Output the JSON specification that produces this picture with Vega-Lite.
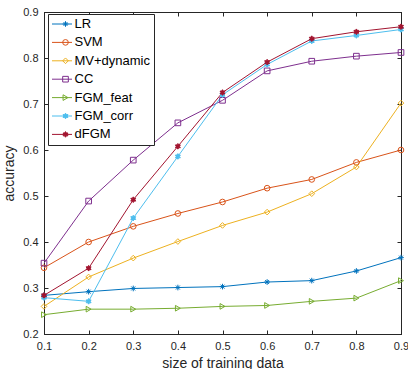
{
  "$schema": "https://vega.github.io/schema/vega-lite/v6.json",
  "width": 357,
  "height": 322,
  "autosize": {"type": "none"},
  "padding": {"left": 44, "top": 12, "right": 7, "bottom": 35},
  "background": "white",
  "config": {
    "view": {"stroke": "#262626", "strokeWidth": 1},
    "font": "Liberation Sans",
    "axis": {
      "grid": false,
      "domainColor": "#262626",
      "tickColor": "#262626",
      "labelColor": "#262626",
      "titleColor": "#262626",
      "labelFont": "Liberation Sans",
      "titleFont": "Liberation Sans",
      "labelFontSize": 11,
      "titleFontSize": 13,
      "titleFontWeight": "normal",
      "labelFlush": false,
      "tickSize": -4
    }
  },
  "data": {
    "values": [
      {"method": "LR", "x": 0.1, "acc": 0.284},
      {"method": "LR", "x": 0.2, "acc": 0.292},
      {"method": "LR", "x": 0.3, "acc": 0.299},
      {"method": "LR", "x": 0.4, "acc": 0.301},
      {"method": "LR", "x": 0.5, "acc": 0.303},
      {"method": "LR", "x": 0.6, "acc": 0.313},
      {"method": "LR", "x": 0.7, "acc": 0.316},
      {"method": "LR", "x": 0.8, "acc": 0.337},
      {"method": "LR", "x": 0.9, "acc": 0.366},
      {"method": "SVM", "x": 0.1, "acc": 0.344},
      {"method": "SVM", "x": 0.2, "acc": 0.400},
      {"method": "SVM", "x": 0.3, "acc": 0.434},
      {"method": "SVM", "x": 0.4, "acc": 0.462},
      {"method": "SVM", "x": 0.5, "acc": 0.487},
      {"method": "SVM", "x": 0.6, "acc": 0.517},
      {"method": "SVM", "x": 0.7, "acc": 0.536},
      {"method": "SVM", "x": 0.8, "acc": 0.573},
      {"method": "SVM", "x": 0.9, "acc": 0.600},
      {"method": "MV+dynamic", "x": 0.1, "acc": 0.260},
      {"method": "MV+dynamic", "x": 0.2, "acc": 0.324},
      {"method": "MV+dynamic", "x": 0.3, "acc": 0.365},
      {"method": "MV+dynamic", "x": 0.4, "acc": 0.401},
      {"method": "MV+dynamic", "x": 0.5, "acc": 0.436},
      {"method": "MV+dynamic", "x": 0.6, "acc": 0.465},
      {"method": "MV+dynamic", "x": 0.7, "acc": 0.505},
      {"method": "MV+dynamic", "x": 0.8, "acc": 0.563},
      {"method": "MV+dynamic", "x": 0.9, "acc": 0.702},
      {"method": "CC", "x": 0.1, "acc": 0.354},
      {"method": "CC", "x": 0.2, "acc": 0.489},
      {"method": "CC", "x": 0.3, "acc": 0.578},
      {"method": "CC", "x": 0.4, "acc": 0.659},
      {"method": "CC", "x": 0.5, "acc": 0.708},
      {"method": "CC", "x": 0.6, "acc": 0.772},
      {"method": "CC", "x": 0.7, "acc": 0.793},
      {"method": "CC", "x": 0.8, "acc": 0.804},
      {"method": "CC", "x": 0.9, "acc": 0.812},
      {"method": "FGM_feat", "x": 0.1, "acc": 0.242},
      {"method": "FGM_feat", "x": 0.2, "acc": 0.254},
      {"method": "FGM_feat", "x": 0.3, "acc": 0.254},
      {"method": "FGM_feat", "x": 0.4, "acc": 0.256},
      {"method": "FGM_feat", "x": 0.5, "acc": 0.260},
      {"method": "FGM_feat", "x": 0.6, "acc": 0.262},
      {"method": "FGM_feat", "x": 0.7, "acc": 0.271},
      {"method": "FGM_feat", "x": 0.8, "acc": 0.278},
      {"method": "FGM_feat", "x": 0.9, "acc": 0.316},
      {"method": "FGM_corr", "x": 0.1, "acc": 0.279},
      {"method": "FGM_corr", "x": 0.2, "acc": 0.271},
      {"method": "FGM_corr", "x": 0.3, "acc": 0.452},
      {"method": "FGM_corr", "x": 0.4, "acc": 0.586},
      {"method": "FGM_corr", "x": 0.5, "acc": 0.720},
      {"method": "FGM_corr", "x": 0.6, "acc": 0.786},
      {"method": "FGM_corr", "x": 0.7, "acc": 0.837},
      {"method": "FGM_corr", "x": 0.8, "acc": 0.849},
      {"method": "FGM_corr", "x": 0.9, "acc": 0.862},
      {"method": "dFGM", "x": 0.1, "acc": 0.284},
      {"method": "dFGM", "x": 0.2, "acc": 0.343},
      {"method": "dFGM", "x": 0.3, "acc": 0.492},
      {"method": "dFGM", "x": 0.4, "acc": 0.608},
      {"method": "dFGM", "x": 0.5, "acc": 0.725},
      {"method": "dFGM", "x": 0.6, "acc": 0.791},
      {"method": "dFGM", "x": 0.7, "acc": 0.842},
      {"method": "dFGM", "x": 0.8, "acc": 0.857},
      {"method": "dFGM", "x": 0.9, "acc": 0.868}
    ]
  },
  "layer": [
    {
      "layer": [
        {
          "mark": {"type": "line", "strokeWidth": 1},
          "encoding": {
            "x": {
              "field": "x", "type": "quantitative",
              "scale": {"domain": [0.1, 0.9], "nice": false, "zero": false},
              "axis": {"title": "size of training data", "values": [0.1,0.2,0.3,0.4,0.5,0.6,0.7,0.8,0.9], "format": ".1f", "labelPadding": 10, "titleFontSize": 14, "titlePadding": 5}
            },
            "y": {
              "field": "acc", "type": "quantitative",
              "scale": {"domain": [0.2, 0.9], "nice": false, "zero": false},
              "axis": {"title": "accuracy", "values": [0.2,0.3,0.4,0.5,0.6,0.7,0.8,0.9], "format": ".1f", "labelPadding": 10, "titleFontSize": 14, "titlePadding": 6}
            },
            "stroke": {
              "field": "method", "type": "nominal",
              "scale": {
                "domain": ["LR","SVM","MV+dynamic","CC","FGM_feat","FGM_corr","dFGM"],
                "range": ["#0072BD","#D95319","#EDB120","#7E2F8E","#77AC30","#4DBEEE","#A2142F"]
              },
              "legend": {
                "title": null, "orient": "none", "legendX": 4, "legendY": 2,
                "symbolType": "stroke", "symbolSize": 400, "symbolStrokeWidth": 1,
                "labelFontSize": 13, "labelFont": "Liberation Sans", "labelColor": "#000000",
                "labelOffset": 2, "rowPadding": 4.4, "clipHeight": 13, "padding": 3.5,
                "strokeColor": "#262626", "fillColor": "white"
              }
            }
          }
        },
        {
          "mark": {"type": "point", "filled": false, "strokeWidth": 1, "size": 32, "opacity": 1},
          "encoding": {
            "x": {"field": "x", "type": "quantitative"},
            "y": {"field": "acc", "type": "quantitative"},
            "color": {
              "field": "method", "type": "nominal",
              "scale": {
                "domain": ["dFGM","FGM_corr","FGM_feat","CC","MV+dynamic","SVM","LR"],
                "range": ["#A2142F","#4DBEEE","#77AC30","#7E2F8E","#EDB120","#D95319","#0072BD"]
              },
              "legend": {
                "title": null, "orient": "none", "legendX": 11.5, "legendY": 2,
                "values": ["LR","SVM","MV+dynamic","CC","FGM_feat","FGM_corr","dFGM"],
                "symbolSize": 32, "symbolStrokeWidth": 1,
                "labelFontSize": 13, "labelColor": "transparent",
                "labelOffset": 2, "rowPadding": 4.4, "clipHeight": 13, "padding": 3.5
              }
            },
            "fill": {
              "field": "method", "type": "nominal",
              "scale": {
                "domain": ["dFGM","FGM_corr","FGM_feat","CC","MV+dynamic","SVM","LR"],
                "range": ["#A2142F","#4DBEEE","transparent","transparent","transparent","transparent","transparent"]
              },
              "legend": {
                "title": null, "orient": "none", "legendX": 11.5, "legendY": 2,
                "values": ["LR","SVM","MV+dynamic","CC","FGM_feat","FGM_corr","dFGM"],
                "symbolSize": 32, "labelColor": "transparent", "labelFontSize": 13,
                "labelOffset": 2, "rowPadding": 4.4, "clipHeight": 13, "padding": 3.5
              }
            },
            "shape": {
              "field": "method", "type": "nominal",
              "scale": {
                "domain": ["dFGM","FGM_corr","FGM_feat","CC","MV+dynamic","SVM","LR"],
                "range": [
                  "M0,-1L0.289,-0.5L0.866,-0.5L0.577,0L0.866,0.5L0.289,0.5L0,1L-0.289,0.5L-0.866,0.5L-0.577,0L-0.866,-0.5L-0.289,-0.5Z",
                  "M0,-1L0.289,-0.5L0.866,-0.5L0.577,0L0.866,0.5L0.289,0.5L0,1L-0.289,0.5L-0.866,0.5L-0.577,0L-0.866,-0.5L-0.289,-0.5Z",
                  "triangle-right",
                  "square",
                  "diamond",
                  "circle",
                  "M-1,0L1,0M0,-1L0,1M-0.7,-0.7L0.7,0.7M-0.7,0.7L0.7,-0.7"
                ]
              },
              "legend": {
                "title": null, "orient": "none", "legendX": 11.5, "legendY": 2,
                "values": ["LR","SVM","MV+dynamic","CC","FGM_feat","FGM_corr","dFGM"],
                "symbolSize": 32, "labelColor": "transparent", "labelFontSize": 13,
                "labelOffset": 2, "rowPadding": 4.4, "clipHeight": 13, "padding": 3.5
              }
            }
          }
        }
      ]
    },
    {
      "mark": {"type": "point", "opacity": 0},
      "encoding": {
        "x": {
          "field": "x", "type": "quantitative",
          "scale": {"domain": [0.1, 0.9], "nice": false, "zero": false},
          "axis": {"orient": "top", "title": null, "labels": false, "values": [0.1,0.2,0.3,0.4,0.5,0.6,0.7,0.8,0.9]}
        },
        "y": {
          "field": "acc", "type": "quantitative",
          "scale": {"domain": [0.2, 0.9], "nice": false, "zero": false},
          "axis": {"orient": "right", "title": null, "labels": false, "values": [0.2,0.3,0.4,0.5,0.6,0.7,0.8,0.9]}
        }
      }
    }
  ],
  "resolve": {"scale": {"x": "independent", "y": "independent"}, "axis": {"x": "independent", "y": "independent"}}
}
